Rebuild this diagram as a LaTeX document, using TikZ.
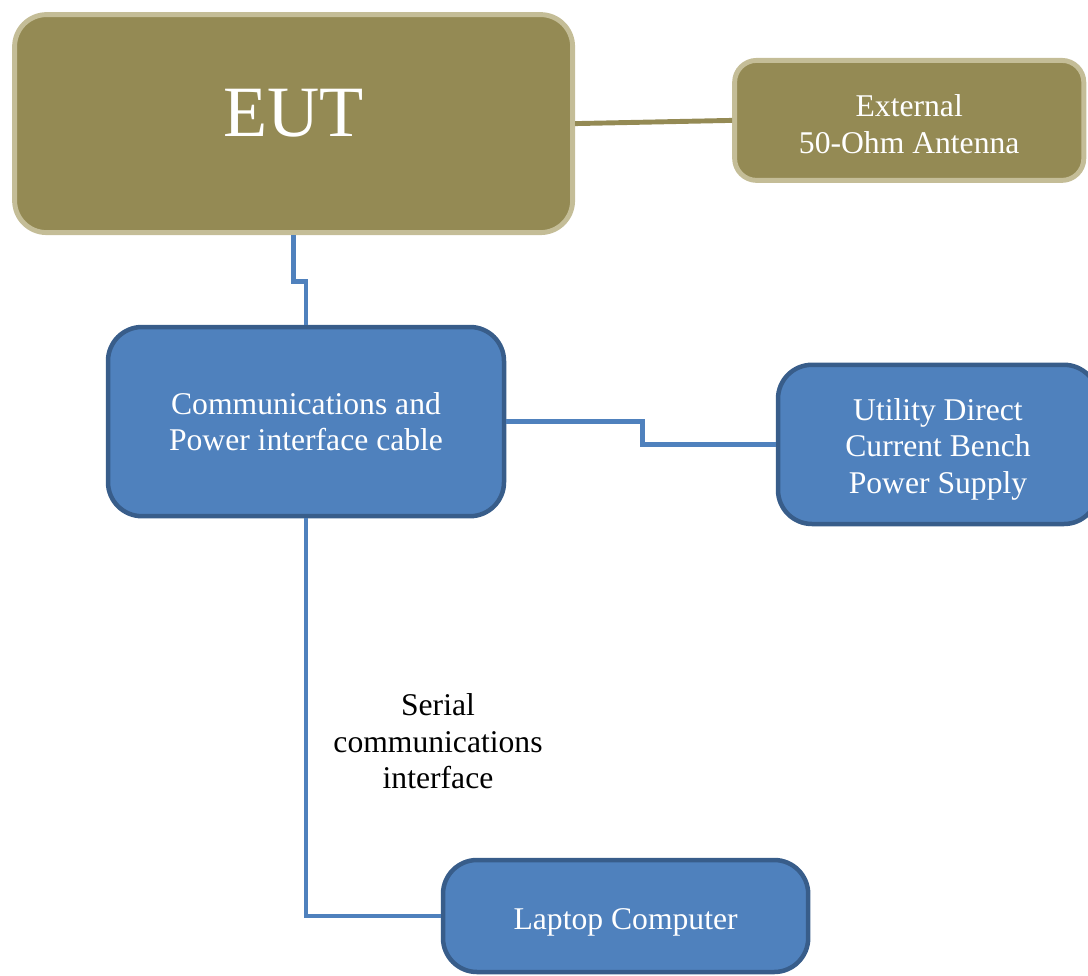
\documentclass[tikz,border=0pt]{standalone}
\usepackage{fontspec}
\setmainfont{Liberation Serif}

\definecolor{olivefill}{HTML}{948A54}
\definecolor{olivedraw}{HTML}{C4BD97}
\definecolor{bluefill}{HTML}{4F81BD}
\definecolor{bluedraw}{HTML}{385D8A}

\tikzset{
  olivebox/.style={draw=olivedraw, fill=olivefill, line width=3.5pt, text=white, align=center, inner sep=0pt},
  bluebox/.style={draw=bluedraw, fill=bluefill, line width=3.2pt, text=white, align=center, inner sep=0pt,
    rounded corners=0.85cm, font=\fontsize{22.5}{26.2}\selectfont},
  bluewire/.style={draw=bluefill, line width=3.5pt},
  olivewire/.style={draw=olivefill, line width=3.5pt}
}

\begin{document}
\begin{tikzpicture}

  \useasboundingbox (0,0) rectangle (27.2,-24.4);

% Boxes
  \node[olivebox, minimum width=13.95cm, minimum height=5.45cm, rounded corners=0.8cm,
        text height=1.27cm, text depth=0.6cm,
        font=\fontsize{51.4}{60}\selectfont] (eut) at (7.34,-3.09) {EUT};
  \node[olivebox, minimum width=8.73cm, minimum height=3.0cm, rounded corners=0.55cm,
        font=\fontsize{22.5}{26.2}\selectfont] (ant) at (22.73,-3.01)
        {\rule{0pt}{0.72cm}External\\50-Ohm Antenna};

  \node[bluebox, minimum width=9.9cm, minimum height=4.73cm] (comms) at (7.65,-10.54)
        {Communications and\\Power interface cable};
  \node[bluebox, minimum width=8.0cm, minimum height=3.98cm] (util) at (23.45,-11.11)
        {\rule{0pt}{0.8cm}Utility Direct\\Current Bench\\Power Supply};
  \node[bluebox, minimum width=9.13cm, minimum height=2.8cm,
        text height=0.84cm, text depth=0.17cm] (laptop) at (15.64,-22.9)
        {Laptop Computer};

% Wires
  \draw[olivewire] (eut.east) -- (ant.west);
  \draw[bluewire] (eut.south) -- ++(0,-1.15) -| (comms.north);
  \draw[bluewire] (comms.east) -- ++(3.41,0) |- (util.west);
  \draw[bluewire] (comms.south) |- (laptop.west);

% Label
  \node[align=center, font=\fontsize{22.5}{26.2}\selectfont] (serial) at (10.95,-18.53)
        {Serial\\communications\\interface};

\end{tikzpicture}
\end{document}
